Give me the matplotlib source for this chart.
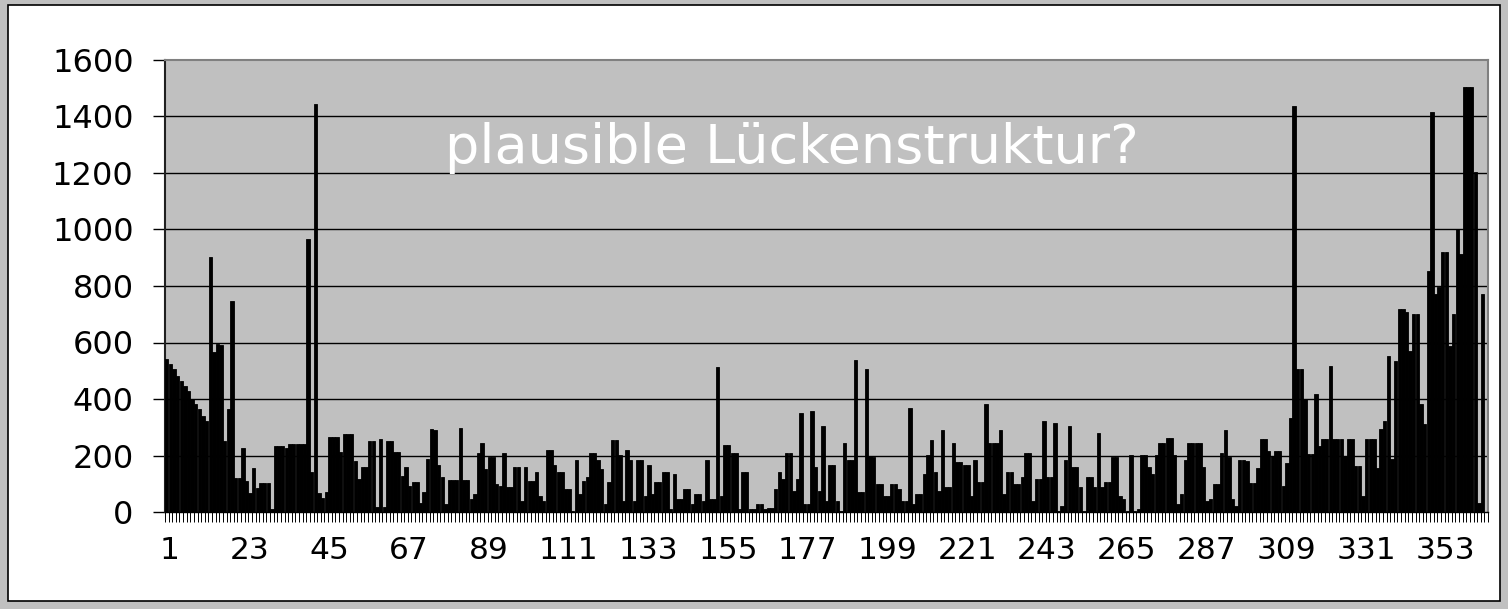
import matplotlib
matplotlib.use("Agg")
import matplotlib.pyplot as plt
from matplotlib.patches import Rectangle
from matplotlib.ticker import FixedLocator, NullFormatter
from matplotlib.transforms import ScaledTranslation

plt.rcParams['font.family'] = ['DejaVu Sans']

title = "plausible Lückenstruktur?"
values = [
    540, 525, 507, 480, 462, 445, 427, 401, 384, 366,
    339, 321, 903, 568, 595, 590, 250, 366, 746, 119,
    119, 225, 110, 66, 154, 84, 101, 101, 101, 9,
    234, 234, 234, 225, 242, 242, 242, 242, 242, 966,
    142, 1445, 66, 48, 72, 266, 266, 266, 213, 275,
    275, 275, 180, 116, 160, 160, 250, 250, 19, 259,
    19, 250, 250, 213, 213, 127, 160, 92, 107, 107,
    31, 72, 189, 295, 289, 168, 123, 29, 115, 115,
    115, 298, 115, 115, 47, 63, 210, 245, 151, 193,
    193, 99, 91, 210, 90, 90, 159, 159, 38, 159,
    108, 108, 143, 55, 38, 218, 218, 168, 143, 143,
    82, 82, 3, 185, 63, 108, 124, 210, 210, 185,
    151, 29, 107, 254, 254, 202, 38, 220, 185, 38,
    185, 185, 55, 168, 63, 107, 107, 143, 143, 11,
    133, 47, 47, 82, 82, 29, 64, 64, 38, 185,
    47, 47, 513, 55, 237, 237, 210, 210, 11, 141,
    141, 10, 10, 29, 29, 11, 14, 14, 82, 141,
    116, 210, 210, 74, 116, 349, 29, 29, 356, 159,
    74, 306, 38, 168, 168, 38, 3, 245, 185, 185,
    539, 72, 72, 505, 200, 195, 99, 99, 55, 55,
    99, 99, 82, 38, 38, 367, 29, 64, 64, 133,
    202, 254, 143, 74, 289, 90, 90, 245, 176, 176,
    168, 168, 55, 185, 107, 107, 383, 245, 245, 245,
    289, 64, 141, 141, 99, 99, 124, 210, 210, 38,
    116, 116, 323, 124, 124, 314, 3, 21, 185, 306,
    159, 159, 90, 3, 124, 124, 90, 280, 90, 107,
    107, 193, 193, 55, 47, 3, 202, 3, 11, 202,
    202, 159, 133, 202, 245, 245, 262, 262, 202, 29,
    64, 185, 245, 245, 245, 245, 159, 38, 47, 99,
    99, 210, 289, 193, 47, 21, 185, 185, 180, 101,
    101, 154, 260, 260, 215, 199, 215, 215, 92, 172,
    331, 1436, 507, 507, 401, 207, 207, 419, 233, 260,
    260, 516, 260, 260, 260, 199, 260, 260, 162, 162,
    56, 260, 260, 260, 154, 295, 321, 552, 189, 534,
    719, 719, 709, 569, 701, 701, 384, 313, 852, 1416,
    772, 798, 922, 922, 587, 701, 1001, 913, 1506, 1506,
    1506, 1205, 31, 772, 0,
]
categories = list(range(1, len(values) + 1))
x_tick_labels = [str(v) for v in range(1, 366, 22)]
y_ticks = [0, 200, 400, 600, 800, 1000, 1200, 1400, 1600]

W, H = 1508, 609
fig = plt.figure(figsize=(W / 100, H / 100), dpi=100)
fig.patch.set_facecolor('#c0c0c0')

# white chart area with black frame
frame = Rectangle((8 / W, 1 - 601 / H), (1500 - 8) / W, (601 - 5) / H,
                  transform=fig.transFigure, facecolor='white',
                  edgecolor='black', linewidth=1.2, zorder=-10)
fig.patches.append(frame)

ax = fig.add_axes([165 / W, 1 - 512 / H, (1488 - 165) / W, (512 - 60) / H])
ax.set_zorder(5)
ax.set_facecolor('#c0c0c0')

ax.bar(categories, values, width=0.93, color='black', edgecolor='black',
       linewidth=0.6, zorder=3)

ax.set_xlim(0.5, len(values) + 0.5)
ax.set_ylim(0, 1600)

ax.set_yticks(y_ticks)
ax.set_yticklabels([str(v) for v in y_ticks])
for v in y_ticks[1:-1]:
    ax.axhline(v, color='black', linewidth=1.0, zorder=1)

ax.xaxis.set_major_locator(FixedLocator([int(s) for s in x_tick_labels]))
ax.set_xticklabels(x_tick_labels)
ax.xaxis.set_minor_locator(FixedLocator([k + 0.5 for k in range(0, len(values) + 1)]))
ax.xaxis.set_minor_formatter(NullFormatter())

ax.tick_params(axis='x', which='major', length=0, pad=17, labelsize=22.5)
ax.tick_params(axis='x', which='minor', length=7, width=0.7, color='black', direction='out')
ax.tick_params(axis='y', which='major', length=8.6, width=1.0, pad=14, labelsize=23)

shift = ScaledTranslation(3 / 100, 0, fig.dpi_scale_trans)
for lbl in ax.get_xticklabels():
    lbl.set_transform(lbl.get_transform() + shift)

for s in ['top', 'right']:
    ax.spines[s].set_color('#808080')
    ax.spines[s].set_linewidth(1.5)
ax.spines['left'].set_color('#202020')
ax.spines['left'].set_linewidth(1.5)
ax.spines['bottom'].set_color('black')
ax.spines['bottom'].set_linewidth(1.0)

ax.text(0.4735, 0.805, title, transform=ax.transAxes, ha='center', va='center',
        color='white', fontsize=39, zorder=5)

fig.savefig('out.png', dpi=100, facecolor=fig.get_facecolor())
